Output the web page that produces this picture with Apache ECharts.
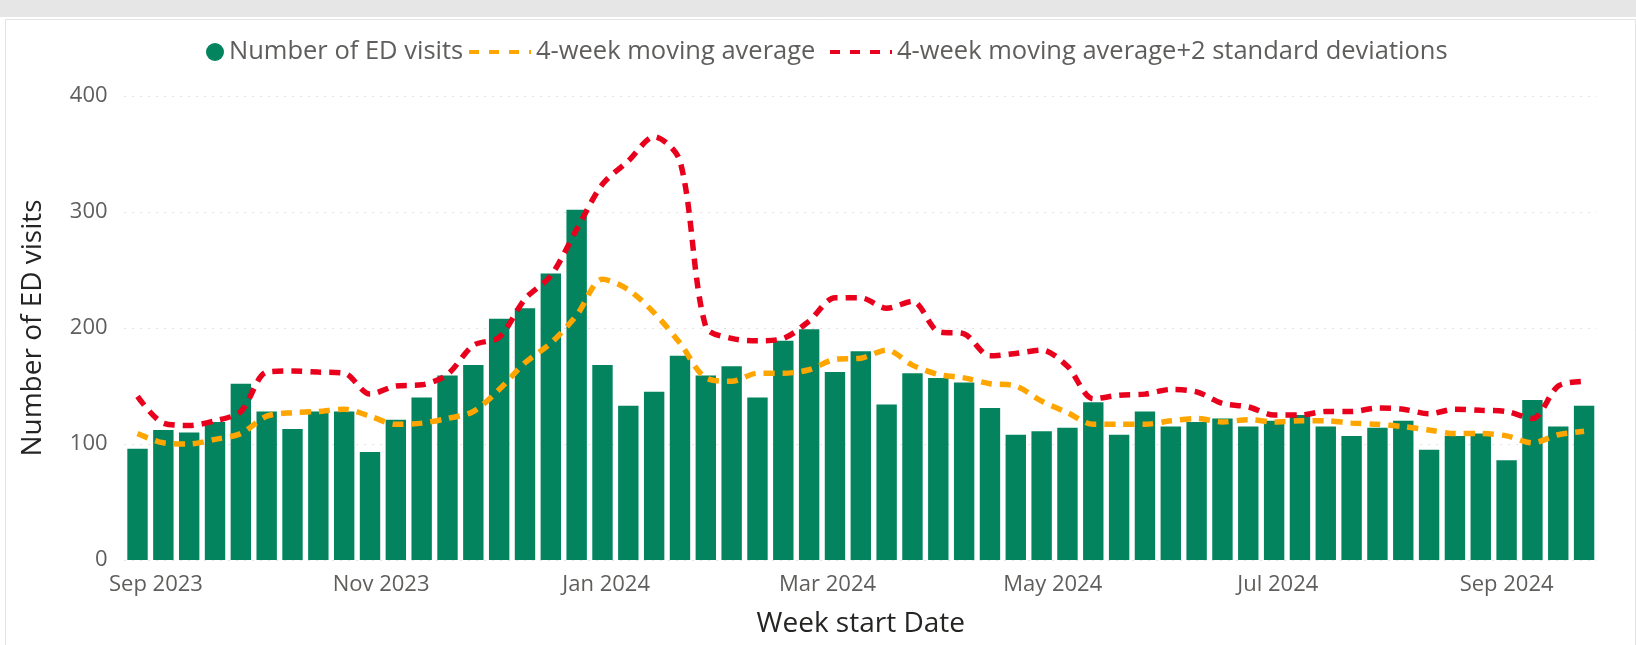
<!DOCTYPE html>
<html>
<head>
<meta charset="utf-8">
<script src="https://cdn.jsdelivr.net/npm/echarts@6/dist/echarts.min.js"></script>
<style>
html,body{margin:0;padding:0;background:#fff;}
#c{width:1636px;height:645px;}
</style>
</head>
<body>
<div id="c"></div>
<script>
// Week start dates (categories)
const weeks = [
  '2023-08-27','2023-09-03','2023-09-10','2023-09-17','2023-09-24',
  '2023-10-01','2023-10-08','2023-10-15','2023-10-22','2023-10-29',
  '2023-11-05','2023-11-12','2023-11-19','2023-11-26',
  '2023-12-03','2023-12-10','2023-12-17','2023-12-24','2023-12-31',
  '2024-01-07','2024-01-14','2024-01-21','2024-01-28',
  '2024-02-04','2024-02-11','2024-02-18','2024-02-25',
  '2024-03-03','2024-03-10','2024-03-17','2024-03-24','2024-03-31',
  '2024-04-07','2024-04-14','2024-04-21','2024-04-28',
  '2024-05-05','2024-05-12','2024-05-19','2024-05-26',
  '2024-06-02','2024-06-09','2024-06-16','2024-06-23','2024-06-30',
  '2024-07-07','2024-07-14','2024-07-21','2024-07-28',
  '2024-08-04','2024-08-11','2024-08-18','2024-08-25',
  '2024-09-01','2024-09-08','2024-09-15','2024-09-22'
];
// Number of ED visits
const visits = [96,112,110,119,152,128,113,128,128,93,121,140,159,168,208,217,247,302,168,133,
  145,176,159,167,140,189,199,162,180,134,161,157,153,131,108,111,114,136,108,128,
  115,119,122,115,120,125,115,107,114,120,95,107,109,86,138,115,133];
// 4-week moving average
const movingAvg = [109,101,100,104,109,124,127,128,130,124,117,118,122,128,147,170,187,211,242,233,
  213,187,157,154,161,161,164,173,174,181,168,160,157,152,150,137,127,117,117,117,
  120,122,119,121,119,120,120,118,117,115,112,109,109,107,101,108,111];
// 4-week moving average + 2 standard deviations
const upperBand = [141,118,116,120,128,162,163,162,161,143,150,151,160,185,192,225,245,285,324,344,
  365,344,201,191,189,191,206,226,226,217,223,197,195,176,178,181,167,139,142,143,
  147,145,135,132,125,125,128,128,131,130,126,130,129,128,122,150,154];
// x-axis tick labels (month starts)
const tickDates = ['2023-09-01','2023-11-01','2024-01-01','2024-03-01','2024-05-01','2024-07-01','2024-09-01'];
const yTicks = [0,100,200,300,400];

const MONTHS = ['Jan','Feb','Mar','Apr','May','Jun','Jul','Aug','Sep','Oct','Nov','Dec'];
function ts(s){ const p = s.split('-').map(Number); return Date.UTC(p[0], p[1]-1, p[2]); }
const DAY = 86400000;
const FONT = "'Segoe UI','Open Sans',sans-serif";
const DASH_ICON = 'path://M0,0h10v4h-10z M20,0h10v4h-10z M40,0h10v4h-10z M60,0h2v4h-2z';

const chart = echarts.init(document.getElementById('c'), null, {renderer:'canvas'});
const legendText = {fontSize:25.5, color:'#605E5C', fontFamily:FONT};
const option = {
  animation: false,
  backgroundColor: '#ffffff',
  textStyle: {fontFamily: FONT},
  graphic: [
    {type:'rect', left:0, top:0, shape:{width:1636, height:17}, style:{fill:'#E6E6E6'}, silent:true},
    {type:'rect', left:3, top:17, shape:{width:1630, height:640}, style:{fill:'none', stroke:'#E3E3E3', lineWidth:1}, silent:true}
  ],
  legend: [
    {left:201, top:34, icon:'circle', itemWidth:18, itemHeight:18, data:['Number of ED visits'], textStyle:legendText},
    {left:464, top:34, icon:DASH_ICON, itemWidth:62, itemHeight:4, data:['4-week moving average'], textStyle:legendText},
    {left:825, top:34, icon:DASH_ICON, itemWidth:62, itemHeight:4, data:['4-week moving average+2 standard deviations'], textStyle:legendText}
  ],
  grid: {left:124.6, right:39, top:96, bottom:85, containLabel:false},
  xAxis: {
    type:'value',
    min: ts(weeks[0]) - 3.5*DAY,
    max: ts(weeks[weeks.length-1]) + 3.5*DAY,
    name:'Week start Date', nameLocation:'middle', nameGap:50,
    nameTextStyle:{fontSize:28, color:'#252423', fontFamily:FONT},
    axisLine:{show:false}, axisTick:{show:false}, splitLine:{show:false},
    axisLabel:{
      customValues: tickDates.map(ts),
      fontSize:22, color:'#605E5C', margin:14, fontFamily:FONT,
      formatter: function(v){ const d = new Date(v); return MONTHS[d.getUTCMonth()] + ' ' + d.getUTCFullYear(); }
    }
  },
  yAxis: {
    type:'value', min:yTicks[0], max:yTicks[yTicks.length-1], interval:100,
    name:'Number of ED visits', nameLocation:'middle', nameGap:78,
    nameTextStyle:{fontSize:28, color:'#252423', fontFamily:FONT},
    axisLine:{show:false}, axisTick:{show:false},
    axisLabel:{fontSize:22, color:'#605E5C', margin:17, fontFamily:FONT},
    splitLine:{show:true, lineStyle:{color:'#C8C6C4', type:[1,7], width:1}}
  },
  series: [
    {name:'Number of ED visits', type:'bar', barWidth:20.4,
     itemStyle:{color:'#03845F'},
     data: weeks.map((w,i)=>[ts(w), visits[i]])},
    {name:'4-week moving average', type:'line', smooth:0.3, showSymbol:false, symbol:'none',
     itemStyle:{color:'#FFA500'},
     lineStyle:{color:'#FFA500', width:5.5, type:[11,8]},
     data: weeks.map((w,i)=>[ts(w), movingAvg[i]])},
    {name:'4-week moving average+2 standard deviations', type:'line', smooth:0.3, showSymbol:false, symbol:'none',
     itemStyle:{color:'#E8001C'},
     lineStyle:{color:'#E8001C', width:5.5, type:[11,8]},
     data: weeks.map((w,i)=>[ts(w), upperBand[i]])}
  ]
};
chart.setOption(option);
</script>
</body>
</html>
